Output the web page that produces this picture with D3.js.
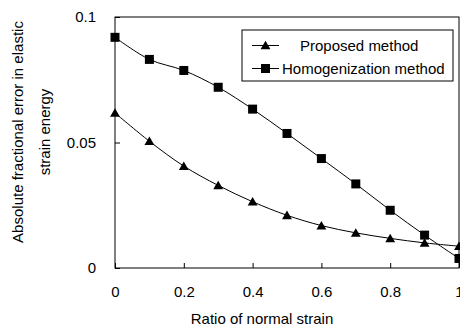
<!DOCTYPE html>
<html>
<head>
<meta charset="utf-8">
<script src="https://cdn.jsdelivr.net/npm/d3@7"></script>
<style>
  body { margin: 0; background: #fff; }
  text { font-family: "Liberation Sans", Arial, sans-serif; fill: #000; }
</style>
</head>
<body>
<svg id="chart"></svg>
<script>
const ratios = [0, 0.1, 0.2, 0.3, 0.4, 0.5, 0.6, 0.7, 0.8, 0.9, 1.0]
const proposed = [0.0618, 0.0505, 0.0406, 0.0329, 0.0264, 0.0210, 0.0169, 0.0140, 0.0118, 0.0100, 0.0087]
const homogenization = [0.0919, 0.0831, 0.0787, 0.0720, 0.0633, 0.0536, 0.0436, 0.0335, 0.0230, 0.0131, 0.0038]
const xTicks = [0, 0.2, 0.4, 0.6, 0.8, 1]
const yTicks = [0, 0.05, 0.1]
const seriesNames = ["Proposed method", "Homogenization method"]

const width = 460, height = 325
const margin = { left: 115, right: 1, top: 17, bottom: 57 }

const svg = d3.select("#chart")
  .attr("width", width)
  .attr("height", height)

const x = d3.scaleLinear().domain([0, 1]).range([margin.left, width - margin.right])
const y = d3.scaleLinear().domain([0, 0.1]).range([height - margin.bottom, margin.top])

// plot frame
svg.append("rect")
  .attr("x", x(0)).attr("y", y(0.1))
  .attr("width", x(1) - x(0)).attr("height", y(0) - y(0.1))
  .attr("fill", "none").attr("stroke", "#000").attr("stroke-width", 1)

// axes with inward ticks
const xAxis = svg.append("g")
  .attr("transform", `translate(0,${y(0)})`)
  .call(d3.axisBottom(x).tickValues(xTicks).tickSizeInner(-5).tickSizeOuter(0).tickPadding(18)
    .tickFormat(d => d === 0 || d === 1 ? d3.format("d")(d) : d3.format(".1f")(d)))
xAxis.select(".domain").remove()
xAxis.selectAll("text").attr("font-size", 15).attr("font-family", null)
xAxis.selectAll("line").attr("stroke", "#000")

const yAxis = svg.append("g")
  .attr("transform", `translate(${x(0)},0)`)
  .call(d3.axisLeft(y).tickValues(yTicks).tickSizeInner(-5).tickSizeOuter(0).tickPadding(19)
    .tickFormat(d => d === 0 ? "0" : String(d)))
yAxis.select(".domain").remove()
yAxis.selectAll("text").attr("font-size", 15).attr("font-family", null)
yAxis.selectAll("line").attr("stroke", "#000")

// axis titles
svg.append("text")
  .attr("x", 262).attr("y", 318)
  .attr("text-anchor", "middle").attr("dominant-baseline", "central")
  .attr("font-size", 15)
  .text("Ratio of normal strain")

const yTitle = svg.append("text")
  .attr("transform", "translate(18,132) rotate(-90)")
  .attr("text-anchor", "middle").attr("font-size", 15)
yTitle.append("tspan").attr("x", 0).attr("dy", "0.35em").text("Absolute fractional error in elastic")
yTitle.append("tspan").attr("x", 0).attr("dy", 27).text("strain energy")

// series
const line = d3.line()
  .x((d, i) => x(ratios[i]))
  .y(d => y(d))
  .curve(d3.curveCatmullRom.alpha(0.5))

const triangle = d3.symbol().type(d3.symbolTriangle).size(42)
const square = d3.symbol().type(d3.symbolSquare).size(81)

const plot = svg.append("g")
plot.append("path").datum(proposed).attr("d", line)
  .attr("fill", "none").attr("stroke", "#000").attr("stroke-width", 1)
plot.append("path").datum(homogenization).attr("d", line)
  .attr("fill", "none").attr("stroke", "#000").attr("stroke-width", 1)

plot.selectAll(".tri").data(proposed).join("path")
  .attr("class", "tri")
  .attr("transform", (d, i) => `translate(${x(ratios[i])},${y(d) + 1})`)
  .attr("d", triangle).attr("fill", "#000")

plot.selectAll(".sq").data(homogenization).join("path")
  .attr("class", "sq")
  .attr("transform", (d, i) => `translate(${x(ratios[i])},${y(d)})`)
  .attr("d", square).attr("fill", "#000")

// legend
const legend = svg.append("g")
legend.append("rect")
  .attr("x", 242).attr("y", 30).attr("width", 211).attr("height", 51)
  .attr("fill", "#fff").attr("stroke", "#000").attr("stroke-width", 1)

const legendRows = [
  { name: seriesNames[0], sym: triangle, cy: 45.5, tx: 300, dy: 1 },
  { name: seriesNames[1], sym: square, cy: 68.5, tx: 282, dy: 0 }
]
legendRows.forEach(r => {
  legend.append("line")
    .attr("x1", 252).attr("x2", 279).attr("y1", r.cy).attr("y2", r.cy)
    .attr("stroke", "#000")
  legend.append("path")
    .attr("transform", `translate(265.5,${r.cy + r.dy})`)
    .attr("d", r.sym).attr("fill", "#000")
  legend.append("text")
    .attr("x", r.tx).attr("y", r.cy)
    .attr("dominant-baseline", "central").attr("font-size", 15)
    .text(r.name)
})
</script>
</body>
</html>
